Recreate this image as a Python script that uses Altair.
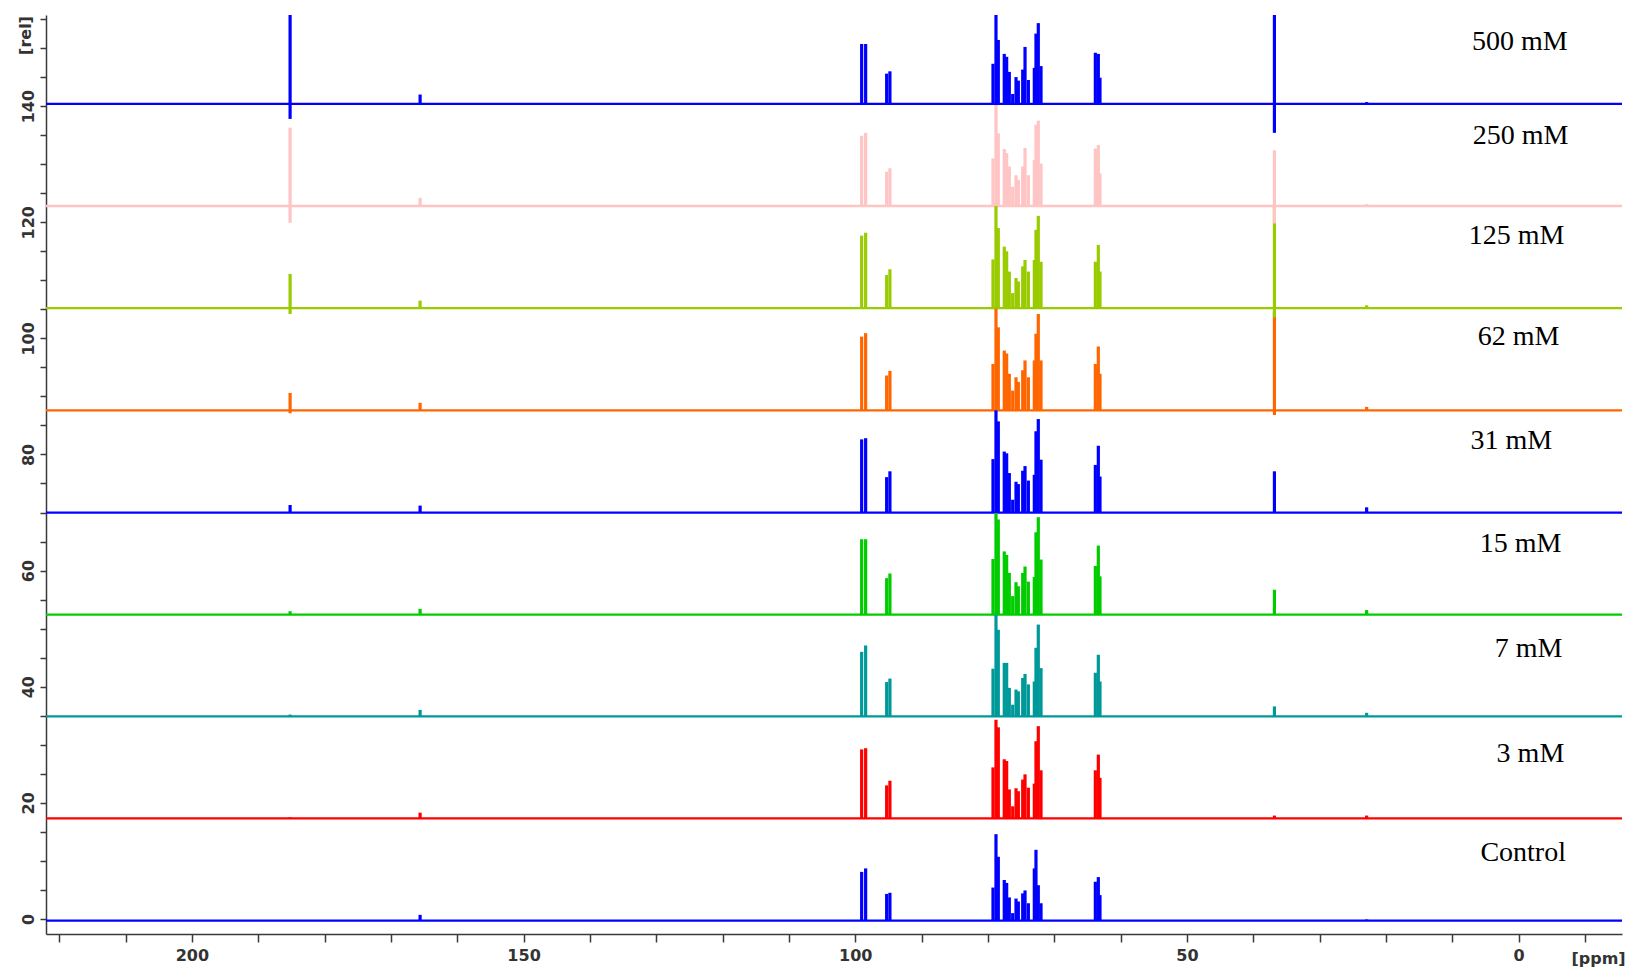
import altair as alt
import pandas as pd

# ---------------- data ----------------
SPECTRA = ["500 mM", "250 mM", "125 mM", "62 mM", "31 mM", "15 mM", "7 mM", "3 mM", "Control"]
BASELINES = [140.4, 122.8, 105.2, 87.6, 70.0, 52.4, 34.9, 17.3, -0.3]
COLORS = ["#0000ff", "#ffc4c4", "#99cc00", "#ff6600", "#0000ff", "#00cc00", "#009999", "#ff0000", "#0000ff"]
LABEL_X = [-0.2, -0.3, 0.3, 0.0, 1.1, -0.3, -1.5, -1.8, -0.7]
LABEL_Y = [151.1, 134.8, 117.7, 100.2, 82.3, 64.6, 46.5, 28.4, 11.3]

PPM_DOMAIN = [222, -15.6]
REL_DOMAIN = [-2.6, 155.7]

PEAK_PPM = [185.2, 165.6, 99.03, 98.43, 95.26, 94.77,
            79.23, 78.78, 78.43, 77.53, 77.17, 76.77, 76.26, 75.76,
            75.41, 74.75, 74.40, 73.9, 73.0, 72.75, 72.4, 71.99,
            63.8, 63.35, 63.1, 36.8, 22.9]

H_500 = [20, 1.6, 10.3, 10.3, 5.2, 5.6, 6.9, 16, 11.0, 8.6, 8.1, 5.5, 1.7, 4.6,
         4.0, 5.9, 9.8, 4.1, 6.2, 12.1, 13.9, 6.5, 8.8, 8.6, 4.5, 20, 0.3]
H_250 = [13.5, 1.4, 12.1, 12.6, 5.9, 6.5, 8.2, 17.4, 12.5, 9.8, 9.1, 6.8, 3.3, 5.3,
         4.5, 6.8, 10.0, 5.3, 7.9, 14.0, 14.7, 7.3, 9.9, 10.5, 5.6, 9.6, 0.3]
H_125 = [5.9, 1.3, 12.5, 13.0, 5.7, 6.7, 8.4, 17.6, 13.8, 10.6, 9.8, 6.3, 2.6, 5.2,
         4.6, 7.2, 8.3, 6.3, 8.3, 13.5, 15.9, 8.0, 8.0, 10.9, 6.3, 17.5, 0.5]
H_62 = [3.0, 1.3, 12.7, 13.3, 6.0, 6.8, 8.0, 17.5, 14.3, 10.3, 9.8, 6.3, 3.4, 5.7,
        4.9, 6.9, 8.6, 5.7, 8.6, 13.2, 16.6, 8.6, 8.0, 11.0, 6.3, 17.0, 0.6]
H_31 = [1.3, 1.2, 12.6, 12.8, 6.1, 7.1, 9.2, 17.7, 15.7, 10.5, 10.2, 6.8, 2.2, 5.3,
        4.9, 7.2, 8.0, 5.5, 6.5, 14.0, 16.1, 9.1, 8.2, 11.5, 6.2, 7.1, 0.9]
H_15 = [0.6, 1.0, 13.0, 13.0, 6.3, 7.1, 9.6, 17.5, 16.4, 10.9, 10.3, 7.2, 3.2, 5.6,
        4.9, 7.2, 8.3, 5.7, 6.5, 14.2, 16.8, 9.5, 8.4, 11.9, 6.6, 4.3, 0.8]
H_7 = [0.3, 1.1, 11.1, 12.2, 5.9, 6.5, 8.2, 17.8, 14.9, 9.2, 9.2, 4.9, 2.0, 4.6,
       4.3, 6.6, 7.3, 5.5, 6.0, 11.8, 15.8, 8.3, 7.5, 10.6, 6.0, 1.7, 0.6]
H_3 = [0.2, 1.0, 11.9, 12.1, 5.7, 6.5, 8.8, 17.0, 15.7, 10.2, 9.9, 5.0, 2.1, 5.2,
       4.7, 6.7, 7.6, 5.3, 6.0, 13.3, 15.9, 8.3, 8.3, 11.0, 7.0, 0.5, 0.5]
H_CTRL = [0.0, 1.0, 8.4, 9.0, 4.6, 4.8, 5.7, 14.9, 11.0, 7.0, 6.5, 4.0, 1.3, 3.8,
          3.3, 4.7, 5.2, 3.0, 9.0, 12.2, 6.1, 3.0, 6.7, 7.5, 4.4, 0.0, 0.2]
HEIGHTS = [H_500, H_250, H_125, H_62, H_31, H_15, H_7, H_3, H_CTRL]

DIP_PPM = [185.2, 36.8]
DIPS = [[-2.6, -5.0], [-2.9, -3.0], [-1.0, -1.6], [-0.5, -0.8],
        [0, 0], [0, 0], [0, 0], [0, 0], [0, 0]]

# ---------------- tables ----------------
order = list(range(len(SPECTRA)))[::-1]  # draw Control first, 500 mM last
base_rows, peak_rows, label_rows = [], [], []
for i in order:
    name, b = SPECTRA[i], BASELINES[i]
    base_rows.append({"spectrum": name, "x0": PPM_DOMAIN[0], "x1": PPM_DOMAIN[1], "y": b})
    for p, h in zip(PEAK_PPM, HEIGHTS[i]):
        if h > 0:
            peak_rows.append({"spectrum": name, "ppm": p, "y0": b, "y1": b + h})
    for p, d in zip(DIP_PPM, DIPS[i]):
        if d < 0:
            peak_rows.append({"spectrum": name, "ppm": p, "y0": b, "y1": b + d})
    label_rows.append({"spectrum": name, "lx": LABEL_X[i], "ly": LABEL_Y[i]})

df_base = pd.DataFrame(base_rows)
df_peaks = pd.DataFrame(peak_rows)
df_labels = pd.DataFrame(label_rows)

FONT = "DejaVu Sans"
x_scale = alt.Scale(domain=PPM_DOMAIN, nice=False, zero=False)
y_scale = alt.Scale(domain=REL_DOMAIN, nice=False, zero=False)
x_axis = alt.Axis(
    values=list(range(220, -20, -10)),
    labelExpr="datum.value % 50 === 0 ? datum.value : ''",
    grid=False, tickSize=8, tickWidth=1.5, domainWidth=1.5,
    domainColor="#3a3a3a", tickColor="#3a3a3a",
    labelFont=FONT, labelFontWeight="bold", labelFontSize=16, labelColor="#333333",
    labelPadding=5, labelFlush=False, labelOverlap=False,
    title="[ppm]", titleFont=FONT, titleFontWeight="bold", titleFontSize=16,
    titleColor="#333333", titleX=1552, titleY=24, titleAlign="center", titleBaseline="middle",
)
y_axis = alt.Axis(
    values=list(range(0, 160, 5)),
    labelExpr="datum.value % 20 === 0 ? datum.value : ''",
    grid=False, tickSize=6, tickWidth=1.5, domainWidth=1.5,
    domainColor="#3a3a3a", tickColor="#3a3a3a",
    labelFont=FONT, labelFontWeight="bold", labelFontSize=16, labelColor="#333333",
    labelAngle=-90, labelAlign="center", labelBaseline="bottom", labelPadding=4,
    labelFlush=False, labelOverlap=False,
    title="[rel]", titleFont=FONT, titleFontWeight="bold", titleFontSize=16,
    titleColor="#333333", titleAngle=-90, titleX=-21, titleY=20,
    titleAlign="center", titleBaseline="middle",
)
color = alt.Color("spectrum:N", scale=alt.Scale(domain=SPECTRA, range=COLORS), legend=None)

baselines = alt.Chart(df_base).mark_rule(strokeWidth=2.3, clip=True).encode(
    x=alt.X("x0:Q", scale=x_scale, axis=x_axis),
    x2="x1:Q",
    y=alt.Y("y:Q", scale=y_scale, axis=y_axis),
    color=color,
)
peaks = alt.Chart(df_peaks).mark_rule(strokeWidth=3.2, clip=True).encode(
    x=alt.X("ppm:Q", scale=x_scale, axis=x_axis),
    y=alt.Y("y0:Q", scale=y_scale, axis=y_axis),
    y2="y1:Q",
    color=color,
)
labels = alt.Chart(df_labels).mark_text(
    font="Liberation Serif", fontSize=28, color="black", align="center", baseline="middle"
).encode(
    x=alt.X("lx:Q", scale=x_scale, axis=x_axis),
    y=alt.Y("ly:Q", scale=y_scale, axis=y_axis),
    text="spectrum:N",
)

chart = alt.layer(baselines, peaks, labels).properties(
    width=1576, height=919,
    padding={"left": 46, "top": 15, "right": 5, "bottom": 35},
    autosize=alt.AutoSizeParams(type="none"),
    background="white",
).configure_view(stroke=None)

chart.save("out.html", embed_options={"renderer": "svg", "actions": False})
